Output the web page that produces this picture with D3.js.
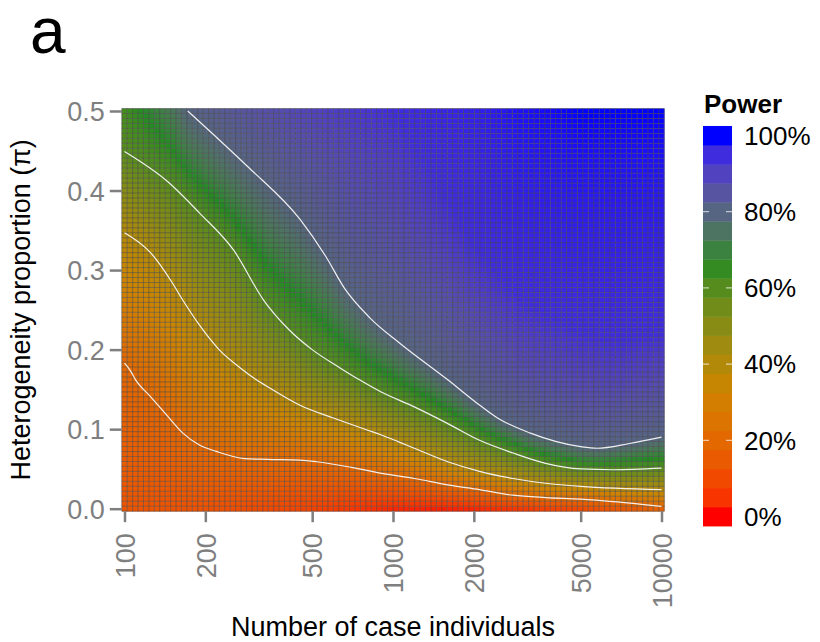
<!DOCTYPE html>
<html>
<head>
<meta charset="utf-8">
<script src="https://cdn.jsdelivr.net/npm/d3@7"></script>
<style>
  body { margin: 0; background: #fff; }
  text { font-family: "Liberation Sans", Arial, Helvetica, sans-serif; }
</style>
</head>
<body>
<svg id="chart"></svg>
<script>
// contour lines: number of cases -> heterogeneity proportion
let c20N  = [100, 105, 110, 125, 145, 165, 190, 220, 280, 340, 450, 520, 700, 920, 1200, 1600, 2100, 2800, 3700, 5000, 6600, 10000]
let c20Pi = [0.183, 0.174, 0.162, 0.141, 0.116, 0.095, 0.080, 0.072, 0.063, 0.062, 0.061, 0.059, 0.052, 0.044, 0.038, 0.030, 0.024, 0.017, 0.014, 0.012, 0.009, 0.003]

let c40N  = [100, 125, 150, 165, 190, 225, 270, 310, 350, 450, 600, 800, 900, 1050, 1200, 1600, 2100, 2800, 3700, 5000, 10000]
let c40Pi = [0.347, 0.322, 0.285, 0.262, 0.231, 0.200, 0.177, 0.162, 0.151, 0.130, 0.114, 0.099, 0.093, 0.084, 0.076, 0.059, 0.047, 0.038, 0.032, 0.028, 0.024]

let c60N  = [100, 145, 190, 255, 330, 410, 500, 635, 750, 900, 1200, 1600, 2100, 2800, 3700, 5000, 6600, 10000]
let c60Pi = [0.449, 0.411, 0.372, 0.325, 0.262, 0.225, 0.200, 0.177, 0.162, 0.147, 0.128, 0.107, 0.086, 0.070, 0.057, 0.050, 0.049, 0.051]

let c80N  = [172, 220, 290, 450, 560, 660, 820, 1060, 1600, 2050, 2450, 3250, 5000, 5750, 7600, 10000]
let c80Pi = [0.500, 0.467, 0.429, 0.364, 0.318, 0.277, 0.240, 0.208, 0.162, 0.133, 0.114, 0.095, 0.078, 0.076, 0.082, 0.090]

// 95% level, estimated from the colours (not drawn as a line)
let c95N  = [1000, 1500, 2000, 3000, 5000, 7000, 10000]
let c95Pi = [0.500, 0.400, 0.330, 0.260, 0.220, 0.210, 0.220]

let bottomN = [100, 200, 500, 1000, 1500, 2000, 3000, 5000, 7000, 10000]
let bottomP = [0.13, 0.12, 0.08, 0.03, 0.02, 0.03, 0.06, 0.10, 0.14, 0.18]
let topN = [100, 150, 172, 250, 350, 500, 1000, 2000, 3000, 5000, 10000]
let topP = [0.63, 0.73, 0.80, 0.84, 0.87, 0.90, 0.95, 0.97, 0.99, 1.00, 1.00]

let xTicks = [100, 200, 500, 1000, 2000, 5000, 10000]
let yTicks = [0, 0.1, 0.2, 0.3, 0.4, 0.5]
let legendTicks = [0, 0.2, 0.4, 0.6, 0.8, 1]
let legendLabels = ['0%', '20%', '40%', '60%', '80%', '100%']

let width = 820
let height = 642
let nCols = 100
let nRows = 81

let svg = d3.select('#chart').attr('width', width).attr('height', height)

let xScale = d3.scaleLog().domain([100, 10000]).range([124.5, 661.5])
let yScale = d3.scaleLinear().domain([0, 0.5]).range([508.7, 111])

let colour = d3.piecewise(d3.interpolateLab, ['#ff0000', '#cd8500', '#228b22', '#0000ff'])

let contours = [
  {level: 0.2, n: c20N, pi: c20Pi, draw: true},
  {level: 0.4, n: c40N, pi: c40Pi, draw: true},
  {level: 0.6, n: c60N, pi: c60Pi, draw: true},
  {level: 0.8, n: c80N, pi: c80Pi, draw: true},
  {level: 0.95, n: c95N, pi: c95Pi, draw: false}
]

let lg = Math.log10
let bottomScale = d3.scaleLinear().domain(bottomN.map(lg)).range(bottomP)
let topScale = d3.scaleLinear().domain(topN.map(lg)).range(topP)

let along = (c, n) => {
  let l = lg(n)
  if (l < lg(c.n[0]) - 1e-9 || l > lg(c.n[c.n.length - 1]) + 1e-9) return null
  return d3.scaleLinear().domain(c.n.map(lg)).range(c.pi)(l)
}

let profile = (n) => {
  let pts = [[0, bottomScale(lg(n))]]
  contours.forEach(c => {
    let p = along(c, n)
    if (p !== null && p < 0.5) pts.push([p, c.level])
  })
  pts.push([0.5, topScale(lg(n))])
  pts.sort((a, b) => a[0] - b[0])
  return d3.scaleLinear().domain(pts.map(p => p[0])).range(pts.map(p => p[1])).clamp(true)
}

// heatmap cells
let colN = d3.range(nCols).map(i => Math.pow(10, 2 + 2 * i / (nCols - 1)))
let rowPi = d3.range(nRows).map(j => 0.5 * j / (nRows - 1))
let cw = (xScale(10000) - xScale(100)) / (nCols - 1)
let ch = (yScale(0) - yScale(0.5)) / (nRows - 1)

let cells = []
colN.forEach(n => {
  let f = profile(n)
  rowPi.forEach(p => cells.push({n: n, pi: p, power: f(p)}))
})

svg.append('g')
  .selectAll('rect')
  .data(cells)
  .enter()
  .append('rect')
  .attr('x', d => xScale(d.n) - cw / 2)
  .attr('y', d => yScale(d.pi) - ch / 2)
  .attr('width', cw + 0.3)
  .attr('height', ch + 0.3)
  .attr('fill', d => colour(d.power))

// cell borders
let grid = svg.append('g')
  .attr('stroke', '#4a4a4a')
  .attr('stroke-opacity', 0.55)
  .attr('stroke-width', 1)
let x0 = xScale(100) - cw / 2, x1 = xScale(10000) + cw / 2
let y0 = yScale(0.5) - ch / 2, y1 = yScale(0) + ch / 2
d3.range(nCols + 1).forEach(i => {
  let xx = x0 + i * cw
  grid.append('line').attr('x1', xx).attr('x2', xx).attr('y1', y0).attr('y2', y1)
})
d3.range(nRows + 1).forEach(j => {
  let yy = y0 + j * ch
  grid.append('line').attr('x1', x0).attr('x2', x1).attr('y1', yy).attr('y2', yy)
})

// contour lines
svg.append('clipPath').attr('id', 'panel')
  .append('rect').attr('x', x0).attr('y', y0).attr('width', x1 - x0).attr('height', y1 - y0)

let line = d3.line()
  .x(d => xScale(d[0]))
  .y(d => yScale(d[1]))
  .curve(d3.curveMonotoneX)

svg.append('g')
  .attr('clip-path', 'url(#panel)')
  .selectAll('path')
  .data(contours.filter(c => c.draw))
  .enter()
  .append('path')
  .attr('d', c => line(c.n.map((n, i) => [n, c.pi[i]])))
  .attr('fill', 'none')
  .attr('stroke', '#fff')
  .attr('stroke-opacity', 0.9)
  .attr('stroke-width', 1.2)

// axes
let xAxis = d3.axisBottom(xScale)
  .tickValues(xTicks)
  .tickFormat(d3.format('d'))
  .tickSize(11)

let yAxis = d3.axisLeft(yScale)
  .tickValues(yTicks)
  .tickFormat(d3.format('.1f'))
  .tickSize(12)
  .tickPadding(5)

let gx = svg.append('g')
  .attr('transform', 'translate(0,' + y1 + ')')
  .call(xAxis)
gx.select('.domain').remove()
gx.selectAll('.tick line').attr('stroke', '#7f7f7f').attr('stroke-width', 2.5)
gx.selectAll('.tick text')
  .attr('fill', '#7f7f7f')
  .style('font-size', '27px')
  .attr('transform', 'rotate(-90)')
  .attr('text-anchor', 'end')
  .attr('x', -22)
  .attr('y', 0)
  .attr('dy', '0.36em')

let gy = svg.append('g')
  .attr('transform', 'translate(' + x0 + ',0)')
  .call(yAxis)
gy.select('.domain').remove()
gy.selectAll('.tick line').attr('stroke', '#7f7f7f').attr('stroke-width', 2.5)
gy.selectAll('.tick text')
  .attr('fill', '#7f7f7f')
  .style('font-size', '27px')
  .attr('dy', '0.36em')

svg.append('text')
  .attr('x', (x0 + x1) / 2)
  .attr('y', 636)
  .attr('text-anchor', 'middle')
  .style('font-size', '27px')
  .text('Number of case individuals')

svg.append('text')
  .attr('transform', 'translate(30,' + (y0 + y1) / 2 + ') rotate(-90)')
  .attr('text-anchor', 'middle')
  .style('font-size', '27px')
  .text('Heterogeneity proportion (π)')

svg.append('text')
  .attr('x', 30)
  .attr('y', 53)
  .style('font-size', '64px')
  .text('a')

// legend
let legendY = d3.scaleLinear().domain([0, 1]).range([516.5, 135.5])
let binH = (legendY(0) - legendY(1)) / 20
let legend = svg.append('g')

legend.append('text')
  .attr('x', 704)
  .attr('y', 113)
  .style('font-size', '26px')
  .style('font-weight', 'bold')
  .text('Power')

legend.selectAll('rect')
  .data(d3.range(21).map(i => i / 20))
  .enter()
  .append('rect')
  .attr('x', 703)
  .attr('y', d => legendY(d) - binH / 2)
  .attr('width', 29)
  .attr('height', binH + 0.4)
  .attr('fill', d => colour(d))

legendTicks.slice(1, -1).forEach(v => {
  legend.append('line').attr('x1', 703).attr('x2', 709)
    .attr('y1', legendY(v)).attr('y2', legendY(v))
    .attr('stroke', '#fff').attr('stroke-opacity', 0.8)
  legend.append('line').attr('x1', 726).attr('x2', 732)
    .attr('y1', legendY(v)).attr('y2', legendY(v))
    .attr('stroke', '#fff').attr('stroke-opacity', 0.8)
})

legend.selectAll('.lab')
  .data(legendTicks)
  .enter()
  .append('text')
  .attr('class', 'lab')
  .attr('x', 744)
  .attr('y', d => legendY(d))
  .attr('dy', '0.36em')
  .style('font-size', '26px')
  .text((d, i) => legendLabels[i])
</script>
</body>
</html>
